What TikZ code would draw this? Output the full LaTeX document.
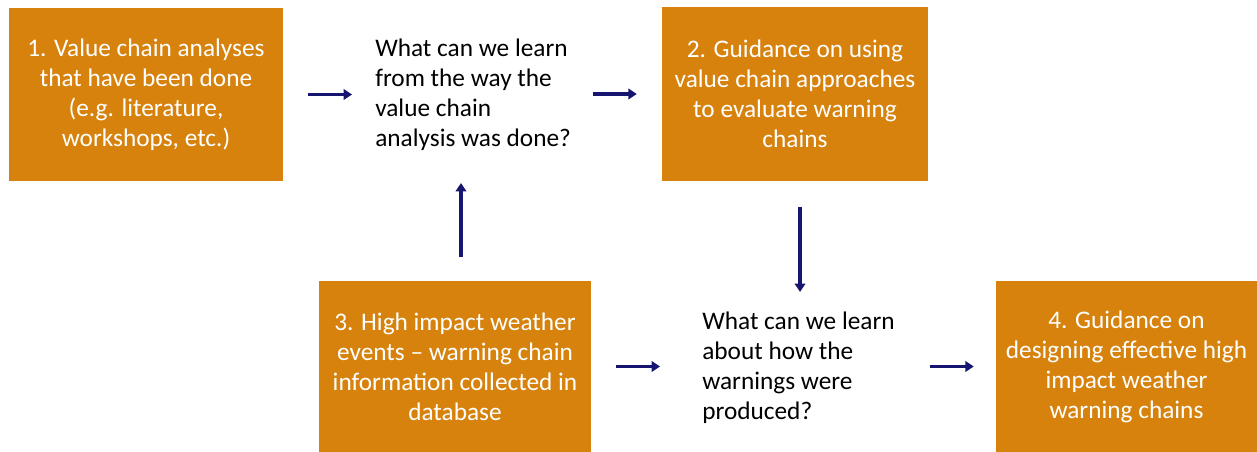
\documentclass[tikz,border=0pt]{standalone}
\usepackage{fontspec}
\setmainfont{Carlito}
\usetikzlibrary{arrows.meta,positioning}
\definecolor{boxorange}{RGB}{214,130,12}
\definecolor{arrowblue}{RGB}{22,22,112}

\begin{document}
\begin{tikzpicture}[x=0.025cm, y=-0.025cm]
	\tikzstyle{box}=[fill=boxorange, rectangle, text=white, align=center, inner sep=0pt, font=\fontsize{18}{21.3}\selectfont]
	\tikzstyle{quest}=[rectangle, align=left, inner sep=0pt, anchor=west, font=\fontsize{18}{21.3}\selectfont]
	\tikzstyle{arr}=[draw=arrowblue, line width=2.2pt, -{Triangle[length=6pt,width=7.5pt]}]

	\useasboundingbox (0,0) rectangle (1257,452);

	\node[box, minimum width=274*0.025cm, minimum height=173*0.025cm] (val) at (146,94.5) {1. Value chain analyses\\that have been done\\(e.g. literature,\\workshops, etc.)};
	\node[quest] (learn1) at (375,95) {What can we learn\\from the way the\\value chain\\analysis was done?};
	\node[box, minimum width=266*0.025cm, minimum height=174*0.025cm] (guid) at (795,94) {2. Guidance on using\\value chain approaches\\to evaluate warning\\chains};

	\node[box, minimum width=272*0.025cm, minimum height=171*0.025cm] (event) at (455,366.5) {3. High impact weather\\events -- warning chain\\information collected in\\database};
	\node[quest] (learn2) at (702,368) {What can we learn\\about how the\\warnings were\\produced?};
	\node[box, minimum width=261*0.025cm, minimum height=171*0.025cm] (design) at (1126.5,366.5) {4. Guidance on\\designing effective high\\impact weather\\warning chains};

	\draw[arr, shorten <=25*0.025cm, shorten >=23*0.025cm] (val.east) -- (val.east -| learn1.west);
	\draw[arr, shorten >=25*0.025cm] ([xshift=-69*0.025cm]guid.west) -- (guid.west);

	\draw[arr, shorten <=26*0.025cm, shorten >=20*0.025cm] ([xshift=5*0.025cm]guid.south) -- ([xshift=5*0.025cm]guid.south |- learn2.north);
	\draw[arr, shorten <=24*0.025cm, shorten >=32*0.025cm] ([xshift=6*0.025cm]event.north) -- ([xshift=6*0.025cm]event.north |- learn1.south);

	\draw[arr, shorten <=25*0.025cm, shorten >=42*0.025cm] (event.east) -- (event.east -| learn2.west);
	\draw[arr, shorten >=22*0.025cm] ([xshift=-66*0.025cm]design.west) -- (design.west);
\end{tikzpicture}
\end{document}
